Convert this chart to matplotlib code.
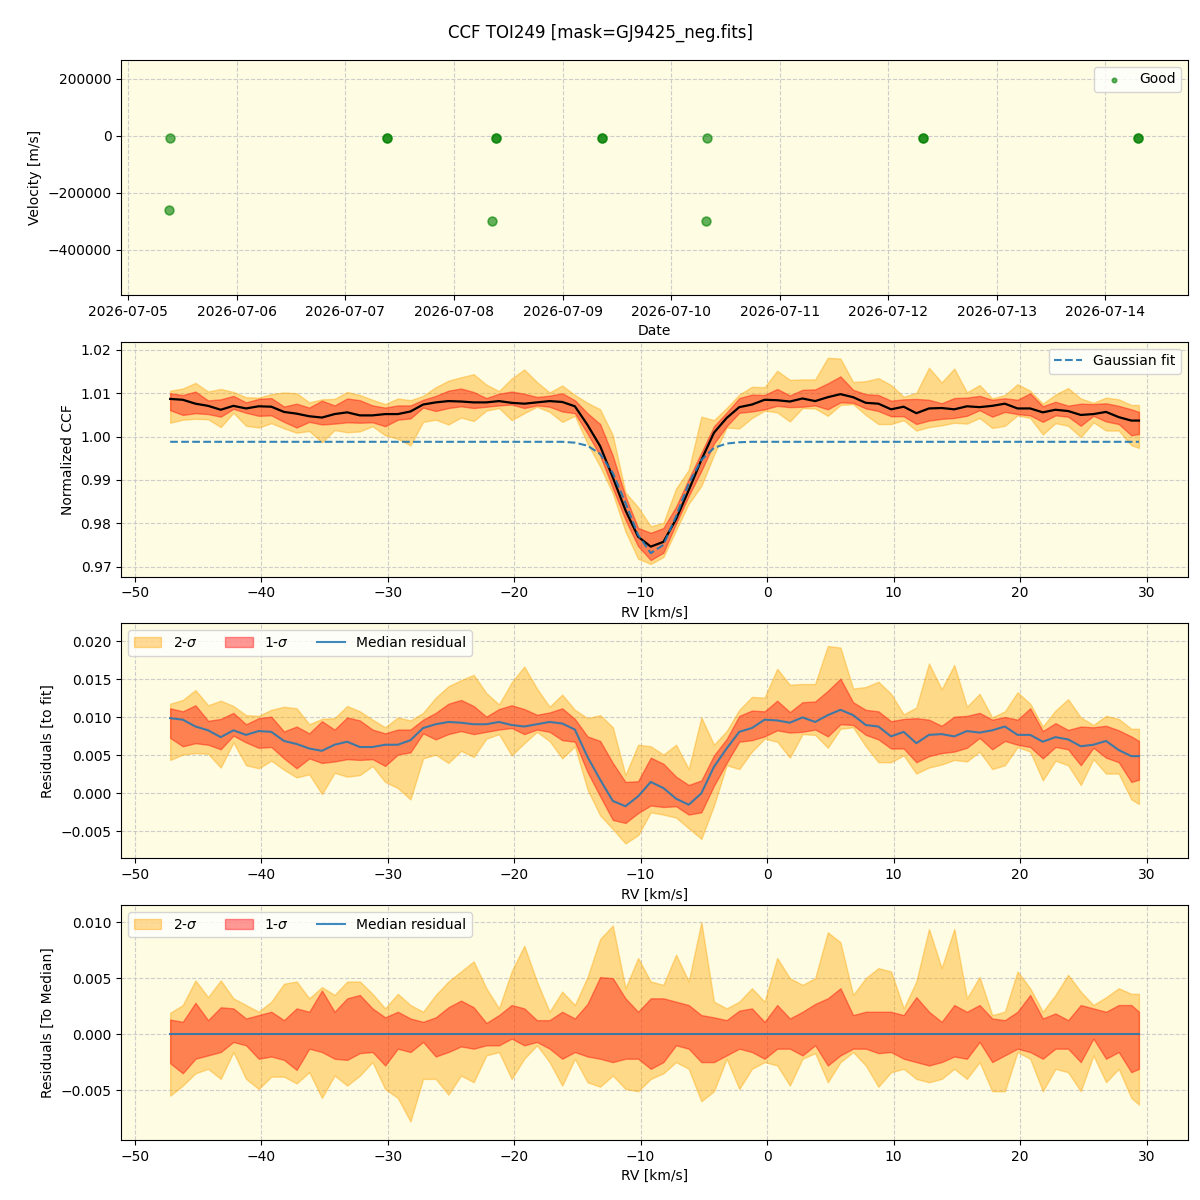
# CCF diagnostic plot for TOI249
import numpy as np
import pandas as pd
import matplotlib
matplotlib.use("Agg")
import matplotlib.pyplot as plt
import matplotlib.dates as mdates

# --- observations (top panel) ---
obs_times = ['2026-07-05 09:17', '2026-07-05 09:04',
             '2026-07-07 09:14', '2026-07-07 09:15',
             '2026-07-08 09:20', '2026-07-08 09:22', '2026-07-08 08:27',
             '2026-07-09 08:45', '2026-07-09 08:47',
             '2026-07-10 07:57', '2026-07-10 07:44',
             '2026-07-12 07:41', '2026-07-12 07:42',
             '2026-07-14 07:12', '2026-07-14 07:13']
obs_vel = [-7000, -260000,
           -7000, -6500,
           -7000, -6500, -298000,
           -7000, -6500,
           -7000, -298000,
           -7000, -6500,
           -7000, -6500]

# --- RV grid [km/s] ---
rv = np.array([-47.2, -46.2, -45.2, -44.2, -43.2, -42.2, -41.2, -40.2, -39.2, -38.2,
               -37.2, -36.2, -35.2, -34.2, -33.2, -32.2, -31.2, -30.2, -29.2, -28.2,
               -27.2, -26.2, -25.2, -24.2, -23.2, -22.2, -21.2, -20.2, -19.2, -18.2,
               -17.2, -16.2, -15.2, -14.2, -13.2, -12.2, -11.2, -10.2, -9.2, -8.2,
               -7.2, -6.2, -5.2, -4.2, -3.2, -2.2, -1.2, -0.2, 0.8, 1.8,
               2.8, 3.8, 4.8, 5.8, 6.8, 7.8, 8.8, 9.8, 10.8, 11.8,
               12.8, 13.8, 14.8, 15.8, 16.8, 17.8, 18.8, 19.8, 20.8, 21.8,
               22.8, 23.8, 24.8, 25.8, 26.8, 27.8, 28.8, 29.4])

# Gaussian fit to the CCF
gauss_fit = np.array([0.9988] * 31 +
                     [0.9988, 0.9986, 0.9979, 0.9960, 0.9916, 0.9847, 0.9773, 0.9731, 0.9750,
                      0.9816, 0.9891, 0.9946, 0.9974, 0.9984, 0.9987] +
                     [0.9988] * 32)

# median residual to the fit (x1e-3)
med_res = np.array([9.9, 9.7, 8.8, 8.3, 7.4, 8.3, 7.7, 8.2, 8.1, 6.9,
                    6.5, 5.9, 5.6, 6.4, 6.8, 6.1, 6.1, 6.4, 6.4, 7.0,
                    8.6, 9.1, 9.4, 9.3, 9.1, 9.1, 9.4, 9.0, 8.8, 9.1,
                    9.4, 9.2, 8.4, 4.8, 1.8, -1.0, -1.7, -0.4, 1.5, 0.7,
                    -0.7, -1.5, 0.0, 3.5, 5.9, 8.1, 8.6, 9.7, 9.6, 9.3,
                    10.0, 9.4, 10.3, 11.0, 10.3, 9.0, 8.8, 7.5, 8.1, 6.6,
                    7.7, 7.8, 7.5, 8.2, 8.0, 8.3, 8.8, 7.7, 7.7, 6.8,
                    7.4, 7.1, 6.2, 6.4, 6.9, 5.7, 4.9, 4.9]) * 1e-3

# spread around the median (x1e-3)
up1 = np.array([1.3, 1.1, 2.8, 1.25, 2.4, 2.3, 1.4, 1.7, 2.0, 1.25,
                2.3, 2.0, 3.9, 2.0, 3.2, 3.5, 2.3, 1.5, 2.0, 1.4,
                1.1, 1.5, 2.4, 3.0, 2.4, 1.0, 1.7, 2.6, 2.3, 1.25,
                1.25, 2.0, 1.4, 2.7, 5.1, 5.0, 3.2, 2.0, 3.2, 3.2,
                2.9, 2.6, 1.7, 1.5, 1.25, 2.1, 2.3, 1.1, 2.6, 1.4,
                2.0, 2.7, 3.2, 4.1, 1.7, 2.0, 2.0, 2.0, 1.7, 3.3,
                2.0, 1.1, 2.6, 2.0, 2.6, 1.4, 1.25, 2.0, 3.5, 1.4,
                1.85, 1.25, 2.6, 2.3, 2.0, 2.6, 2.6, 2.0]) * 1e-3
lo1 = np.array([2.6, 3.5, 2.2, 1.9, 1.6, 0.7, 1.0, 2.2, 2.0, 2.3,
                3.2, 1.3, 1.6, 2.2, 2.3, 1.7, 1.6, 2.8, 1.3, 1.6,
                0.7, 2.0, 1.6, 1.1, 1.3, 1.0, 1.0, 0.4, 1.0, 0.7,
                1.3, 2.2, 1.6, 2.0, 2.2, 2.5, 2.2, 2.2, 3.1, 2.5,
                1.0, 1.3, 2.5, 2.5, 1.9, 1.3, 1.6, 2.2, 1.3, 1.3,
                1.9, 1.0, 2.8, 1.9, 1.3, 1.3, 1.7, 1.6, 2.2, 2.5,
                2.8, 2.5, 2.0, 2.2, 0.7, 2.5, 1.9, 1.3, 1.6, 2.2,
                1.3, 1.3, 2.5, 0.4, 2.2, 1.6, 3.4, 3.1]) * 1e-3
up2 = np.array([1.9, 2.6, 4.8, 3.3, 4.8, 3.2, 2.6, 2.0, 2.9, 4.5,
                4.7, 3.2, 4.2, 3.5, 4.7, 4.7, 3.6, 2.3, 3.6, 2.6,
                2.0, 3.5, 4.7, 5.6, 6.5, 4.1, 2.3, 5.6, 7.9, 4.7,
                2.0, 3.8, 2.6, 5.1, 8.5, 9.7, 4.1, 6.8, 4.7, 4.4,
                7.1, 4.7, 10.0, 2.9, 2.3, 2.9, 4.1, 2.9, 6.8, 5.0,
                4.4, 5.0, 9.1, 8.2, 3.5, 5.0, 5.9, 5.6, 2.3, 4.7,
                9.4, 5.9, 9.4, 3.2, 5.1, 1.7, 2.0, 5.6, 4.1, 2.0,
                3.5, 5.3, 3.8, 2.6, 3.3, 4.1, 3.6, 3.6]) * 1e-3
lo2 = np.array([5.5, 4.6, 3.5, 3.1, 4.0, 1.6, 4.0, 4.9, 3.8, 3.8,
                4.4, 3.4, 5.7, 3.7, 4.6, 3.7, 2.5, 4.9, 5.7, 7.8,
                4.0, 4.0, 5.4, 3.7, 4.3, 1.9, 1.6, 4.0, 2.2, 1.0,
                2.5, 4.6, 2.2, 4.3, 4.7, 3.7, 4.9, 5.1, 4.0, 3.5,
                2.5, 3.1, 6.0, 5.1, 2.2, 4.9, 3.1, 2.5, 2.8, 4.6,
                2.2, 1.7, 4.3, 2.5, 1.6, 2.8, 4.7, 3.4, 3.1, 4.0,
                4.3, 4.0, 3.1, 4.0, 2.5, 5.1, 5.1, 1.6, 2.2, 5.1,
                3.1, 3.4, 5.1, 1.9, 4.3, 3.1, 5.7, 6.3]) * 1e-3

bg = '#fefce3'

fig, axes = plt.subplots(4, 1, figsize=(12, 12), dpi=100)
plt.subplots_adjust(left=0.101, right=0.99, top=0.95, bottom=0.05, hspace=0.2)
fig.suptitle('CCF TOI249 [mask=GJ9425_neg.fits]', fontsize=12)

for ax in axes:
    ax.set_facecolor(bg)
    ax.grid(True, linestyle='--', color='#c8c8c8', alpha=0.9)
    ax.set_axisbelow(True)

# Panel 1: velocities vs date
ax = axes[0]
t = pd.to_datetime(obs_times)
ax.scatter(t, obs_vel, s=40, color='green', alpha=0.6, linewidths=1.2, label='Good')
ax.set_xlim(pd.Timestamp('2026-07-04 22:27'), pd.Timestamp('2026-07-14 18:15'))
ax.set_ylim(-558000, 266700)
ax.xaxis.set_major_locator(mdates.DayLocator())
ax.xaxis.set_major_formatter(mdates.DateFormatter('%Y-%m-%d'))
ax.set_xlabel('Date')
ax.set_ylabel('Velocity [m/s]')
ax.legend(loc='upper right', markerscale=0.5)

# Panel 2: CCF with Gaussian fit
ax = axes[1]
ccf = gauss_fit + med_res
ax.fill_between(rv, ccf - lo2, ccf + up2, color='orange', alpha=0.4)
ax.fill_between(rv, ccf - lo1, ccf + up1, color='red', alpha=0.4)
ax.plot(rv, ccf, color='black', lw=1.6)
ax.plot(rv, gauss_fit, color='C0', ls='--', lw=1.5, alpha=0.9, label='Gaussian fit')
ax.set_xlim(-51.07, 33.28)
ax.set_ylim(0.9677, 1.0219)
ax.set_xlabel('RV [km/s]')
ax.set_ylabel('Normalized CCF')
ax.legend(loc='upper right')

# Panel 3: residuals to the fit
ax = axes[2]
ax.fill_between(rv, med_res - lo2, med_res + up2, color='orange', alpha=0.4, label='2-$\\sigma$')
ax.fill_between(rv, med_res - lo1, med_res + up1, color='red', alpha=0.4, label='1-$\\sigma$')
ax.plot(rv, med_res, color='C0', lw=1.5, alpha=0.85, label='Median residual')
ax.set_xlim(-51.07, 33.28)
ax.set_ylim(-0.00855, 0.02237)
ax.set_xlabel('RV [km/s]')
ax.set_ylabel('Residuals [to fit]')
ax.legend(loc='upper left', ncol=3)

# Panel 4: residuals to the median
ax = axes[3]
zero = med_res - med_res
ax.fill_between(rv, zero - lo2, zero + up2, color='orange', alpha=0.4, label='2-$\\sigma$')
ax.fill_between(rv, zero - lo1, zero + up1, color='red', alpha=0.4, label='1-$\\sigma$')
ax.plot(rv, zero, color='C0', lw=1.5, alpha=0.85, label='Median residual')
ax.set_xlim(-51.07, 33.28)
ax.set_ylim(-0.00946, 0.01152)
ax.set_xlabel('RV [km/s]')
ax.set_ylabel('Residuals [To Median]')
ax.legend(loc='upper left', ncol=3)

plt.savefig('out.png', dpi=100)
